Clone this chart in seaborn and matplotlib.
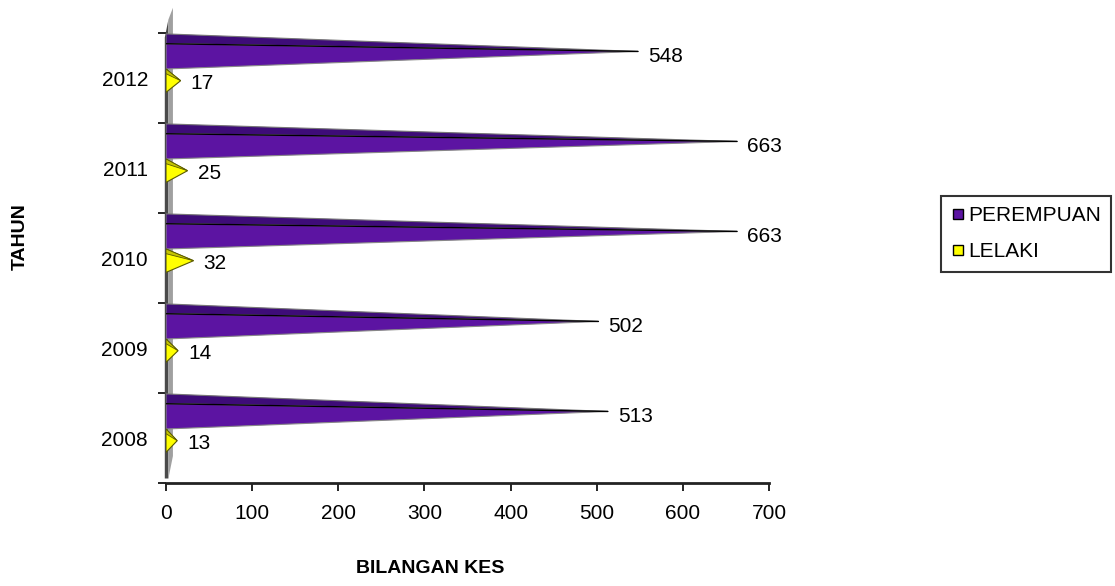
import numpy as np
import pandas as pd
import matplotlib
matplotlib.use("Agg")
import matplotlib.pyplot as plt
from matplotlib.patches import Polygon
from matplotlib.lines import Line2D
import seaborn as sns

# ---- data ----
years = ["2012", "2011", "2010", "2009", "2008"]
perempuan = [548, 663, 663, 502, 513]
lelaki = [17, 25, 32, 14, 13]
series_names = ["PEREMPUAN", "LELAKI"]
x_ticks = [0, 100, 200, 300, 400, 500, 600, 700]
x_label = "BILANGAN KES"
y_label = "TAHUN"

df = pd.DataFrame({
    "Tahun": years * 2,
    "Jantina": [series_names[0]] * len(years) + [series_names[1]] * len(years),
    "Kes": perempuan + lelaki,
})

sns.set_theme(style="white")
plt.rcParams["font.family"] = ["Liberation Sans", "DejaVu Sans"]

PURPLE = "#5c14a2"
PURPLE_DARK = "#3e0c78"
YELLOW = "#ffff00"
YELLOW_DARK = "#c4c400"
FS = 15

W, H = 1115, 586
fig = plt.figure(figsize=(W / 100, H / 100), dpi=100)
fig.patch.set_facecolor("white")
ax = fig.add_axes([166 / W, (H - 483) / H, 603 / W, 450 / H])

sns.barplot(data=df, x="Kes", y="Tahun", hue="Jantina", order=years,
            hue_order=series_names, palette=[PURPLE, YELLOW], orient="h",
            width=0.8, ax=ax, legend=False)

# turn the flat bars into cones
for p in list(ax.patches):
    y0, h, v = p.get_y(), p.get_height(), p.get_width()
    mid = y0 + h / 2
    c = round(mid)
    is_p = mid < c
    p.set_visible(False)
    if is_p:
        top = y0 - 0.09
        bot = y0 + h - 0.10
        tip = (top + bot) / 2
        split = top + 0.28 * (bot - top)
        ax.add_patch(Polygon([(0, top), (0, split), (v, tip)], closed=True,
                             facecolor=PURPLE_DARK, edgecolor="#777777", lw=0.8, zorder=3))
        ax.add_patch(Polygon([(0, split), (0, bot), (v, tip)], closed=True,
                             facecolor=PURPLE, edgecolor="#888888", lw=0.8, zorder=3))
        ax.plot([0, v], [split, tip], color="black", lw=1.0, zorder=4)
        ax.annotate(f"{int(v)}", xy=(v, tip), xytext=(10, -5), textcoords="offset pixels",
                    ha="left", va="center", fontsize=FS, color="black")
    else:
        top = y0 - 0.10
        bot = y0 + h * 0.65 - 0.10
        tip = (top + bot) / 2
        split = top + 0.2 * (bot - top)
        ax.add_patch(Polygon([(0, top), (0, bot), (v, tip)], closed=True,
                             facecolor=YELLOW, edgecolor="#5a5a00", lw=0.8, zorder=3))
        ax.add_patch(Polygon([(0, top), (0, split), (v, tip)], closed=True,
                             facecolor=YELLOW_DARK, edgecolor="#5a5a00", lw=0.6, zorder=3))
        ax.annotate(f"{int(v)}", xy=(v, tip), xytext=(10, -3), textcoords="offset pixels",
                    ha="left", va="center", fontsize=FS, color="black")

ax.set_xlim(0, 700)
ax.set_ylim(len(years) - 0.5, -0.5)
ax.set_xticks(x_ticks)
ax.set_xticklabels([str(t) for t in x_ticks], fontsize=FS)
ax.set_yticks(range(len(years)))
ax.set_yticklabels(years, fontsize=FS)
ax.set_yticks(np.arange(-0.5, len(years), 1.0), minor=True)

ax.tick_params(axis="x", which="major", bottom=True, direction="out", length=6,
               width=1.2, color="black", pad=9, labelcolor="black")
ax.tick_params(axis="y", which="major", left=True, length=0, pad=13, labelcolor="black")
ax.tick_params(axis="y", which="minor", left=True, direction="out", length=6,
               width=1.2, color="black")

for s in ["top", "right", "left"]:
    ax.spines[s].set_visible(False)
ax.spines["bottom"].set_color("#222222")
ax.spines["bottom"].set_linewidth(2)
ax.grid(False)

# back wall (3D effect)
wall_dark = Polygon([(-0.002, 0.01), (-0.002, 0.99), (0.004, 1.03), (0.004, 0.01)],
                    closed=True, transform=ax.transAxes, facecolor="#4a4a4a",
                    edgecolor="none", clip_on=False, zorder=2)
wall_light = Polygon([(0.004, 0.01), (0.004, 1.03), (0.0115, 1.056), (0.0115, 0.06)],
                     closed=True, transform=ax.transAxes, facecolor="#a0a0a0",
                     edgecolor="none", clip_on=False, zorder=2)
ax.add_patch(wall_dark)
ax.add_patch(wall_light)

ax.set_xlabel(x_label, fontsize=14, fontweight="bold", color="black")
ax.xaxis.set_label_coords((430 - 166) / 603, (483 - 560) / 450)
ax.set_ylabel(y_label, fontsize=14, fontweight="bold", color="black")
ax.yaxis.set_label_coords((29 - 166) / 603, (483 - 237) / 450)

handles = [Line2D([], [], marker="s", ls="", markersize=7, markerfacecolor=c,
                  markeredgecolor="black", markeredgewidth=1)
           for c in [PURPLE, YELLOW]]
leg = ax.legend(handles, series_names, loc="upper left",
                bbox_to_anchor=(941 / W, 1 - 196 / H), bbox_transform=fig.transFigure,
                frameon=True, fancybox=False, edgecolor="black", fontsize=FS,
                handlelength=0.6, handletextpad=0.2, labelspacing=0.8,
                borderpad=0.5, borderaxespad=0)
leg.get_frame().set_linewidth(1.5)
for t in leg.get_texts():
    t.set_color("black")

fig.savefig("out.png", dpi=100, facecolor="white")
